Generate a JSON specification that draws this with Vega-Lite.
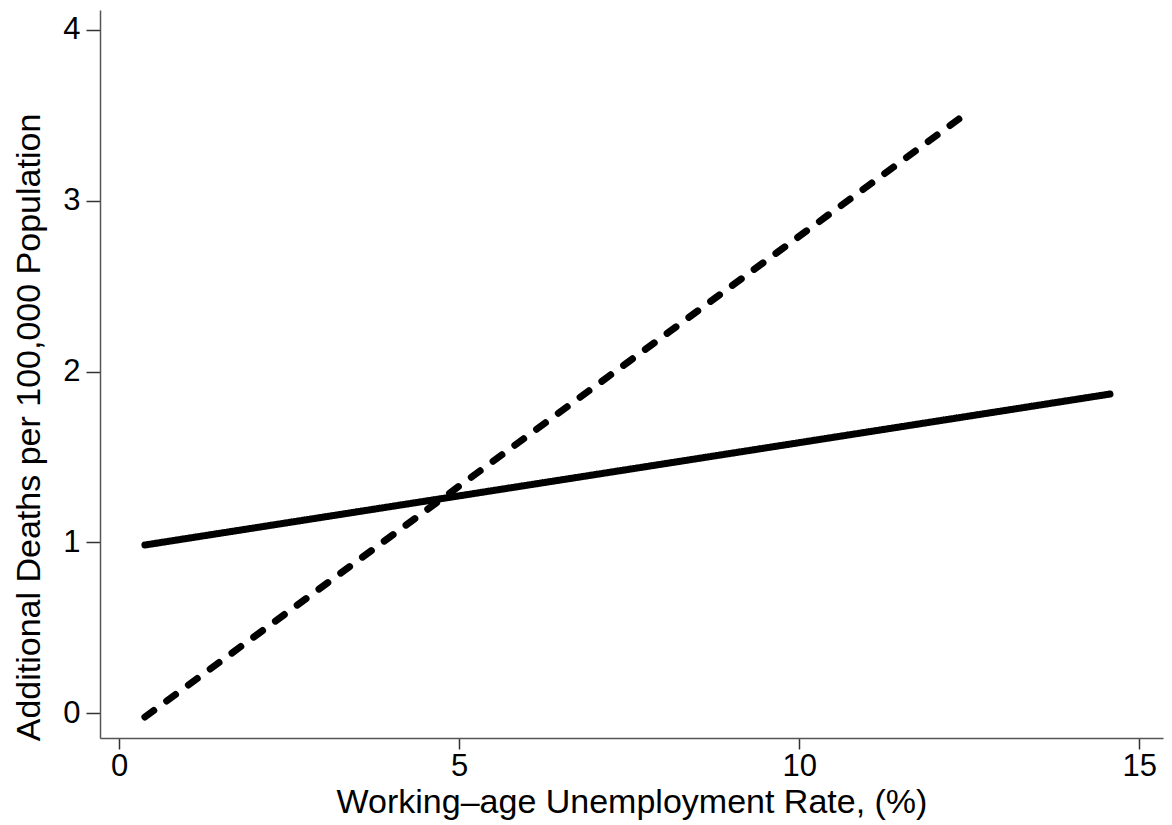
{
  "$schema": "https://vega.github.io/schema/vega-lite/v6.json",
  "autosize": {"type": "none"},
  "width": 1063,
  "height": 728,
  "padding": {"left": 100, "top": 10, "right": 9, "bottom": 87},
  "background": "white",
  "config": {
    "view": {"stroke": null},
    "font": "Liberation Sans",
    "axis": {"grid": false}
  },
  "data": {
    "values": [
      {"series": "Solid", "rate": 0.38, "deaths": 0.984},
      {"series": "Solid", "rate": 14.57, "deaths": 1.868},
      {"series": "Dashed", "rate": 0.38, "deaths": -0.023},
      {"series": "Dashed", "rate": 12.49, "deaths": 3.52}
    ]
  },
  "mark": {"type": "line", "color": "black", "strokeWidth": 7, "strokeCap": "round"},
  "encoding": {
    "x": {
      "field": "rate", "type": "quantitative",
      "scale": {"domain": [-0.28, 15.35], "nice": false, "zero": false},
      "axis": {
        "values": [0, 5, 10, 15], "title": "Working\u2013age Unemployment Rate, (%)",
        "domainColor": "#555555", "domainWidth": 1.5, "tickColor": "#333333", "tickWidth": 1.5, "tickSize": 11,
        "labelFontSize": 31, "labelColor": "black", "labelPadding": 2,
        "titleFontSize": 34, "titleFontWeight": "normal", "titleColor": "black", "titlePadding": 4
      }
    },
    "y": {
      "field": "deaths", "type": "quantitative",
      "scale": {"domain": [-0.146, 4.117], "nice": false, "zero": false},
      "axis": {
        "values": [0, 1, 2, 3, 4], "title": "Additional Deaths per 100,000 Population",
        "domainColor": "#555555", "domainWidth": 1.5, "tickColor": "#333333", "tickWidth": 1.5, "tickSize": 14,
        "labelFontSize": 31, "labelColor": "black", "labelPadding": 6,
        "titleFontSize": 34, "titleFontWeight": "normal", "titleColor": "black", "titlePadding": 16,
        "titleY": 417
      }
    },
    "detail": {"field": "series"},
    "strokeDash": {
      "field": "series", "type": "nominal",
      "scale": {"domain": ["Solid", "Dashed"], "range": [[1, 0], [11, 16]]},
      "legend": null
    }
  }
}
